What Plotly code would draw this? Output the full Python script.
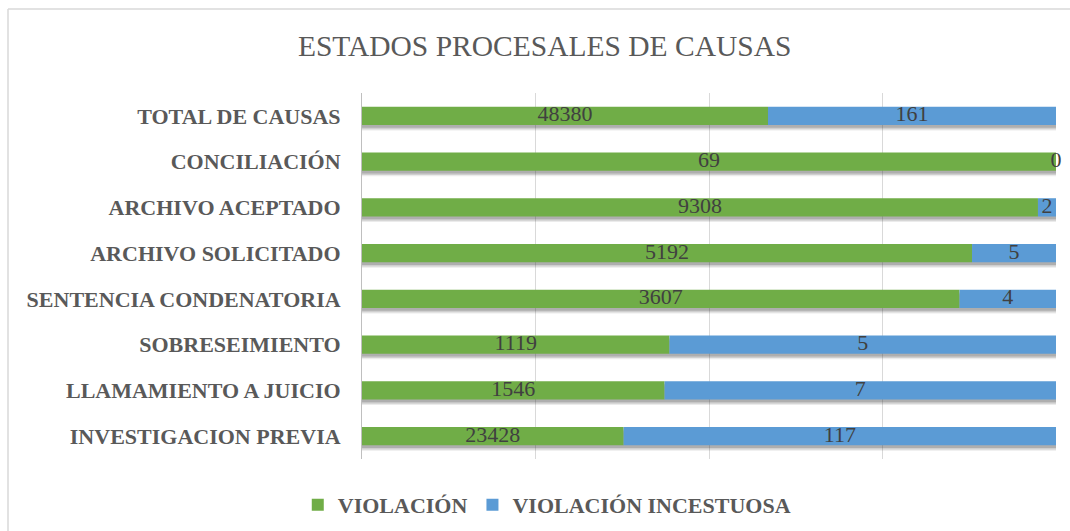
import plotly.graph_objects as go

# Categories, top to bottom as in the chart
CATEGORIES = [
    "TOTAL DE CAUSAS",
    "CONCILIACIÓN",
    "ARCHIVO ACEPTADO",
    "ARCHIVO SOLICITADO",
    "SENTENCIA CONDENATORIA",
    "SOBRESEIMIENTO",
    "LLAMAMIENTO A JUICIO",
    "INVESTIGACION PREVIA",
]

# Counts shown as data labels
VIOLACION = [48380, 69, 9308, 5192, 3607, 1119, 1546, 23428]
INCESTUOSA = [161, 0, 2, 5, 4, 5, 7, 117]

# Bar shares (% of full width) as drawn in the original chart
VIOLACION_SHARE = [58.5, 100.0, 97.4, 87.9, 86.1, 44.3, 43.6, 37.7]
INCESTUOSA_SHARE = [41.5, 0.0, 2.6, 12.1, 13.9, 55.7, 56.4, 62.3]

GREEN = "#70AD47"
BLUE = "#5B9BD5"
GRAY_TXT = "#595959"
LABEL_TXT = "#404040"
GRID = "#D9D9D9"
FONT = "Liberation Serif"

W, H = 1070, 531
ML, MR, MT, MB = 362, 14, 93, 72
BAR_W = 0.4

fig = go.Figure()

# soft drop shadow under each full bar
totals = [g + b for g, b in zip(VIOLACION_SHARE, INCESTUOSA_SHARE)]
for shift, alpha in [(0.12, 0.10), (0.09, 0.16), (0.06, 0.22)]:
    fig.add_trace(go.Bar(
        y=CATEGORIES, x=totals, orientation="h", width=BAR_W,
        offset=-BAR_W / 2 + shift, marker=dict(color=f"rgba(60,60,60,{alpha})", line=dict(width=0)),
        showlegend=False, hoverinfo="skip",
    ))

fig.add_trace(go.Bar(
    y=CATEGORIES, x=VIOLACION_SHARE, orientation="h", width=BAR_W,
    name="VIOLACIÓN", marker=dict(color=GREEN, line=dict(width=0)),
))
fig.add_trace(go.Bar(
    y=CATEGORIES, x=INCESTUOSA_SHARE, base=VIOLACION_SHARE, orientation="h", width=BAR_W,
    name="VIOLACIÓN INCESTUOSA", marker=dict(color=BLUE, line=dict(width=0)),
))

# data labels centred in each segment
fig.add_trace(go.Scatter(
    y=CATEGORIES, x=[g / 2 for g in VIOLACION_SHARE], mode="text",
    text=[str(v) for v in VIOLACION], textposition="middle center",
    textfont=dict(family=FONT, size=22, color=LABEL_TXT),
    showlegend=False, hoverinfo="skip", cliponaxis=False,
))
fig.add_trace(go.Scatter(
    y=CATEGORIES, x=[g + b / 2 for g, b in zip(VIOLACION_SHARE, INCESTUOSA_SHARE)], mode="text",
    text=[str(v) for v in INCESTUOSA], textposition="middle center",
    textfont=dict(family=FONT, size=22, color=LABEL_TXT),
    showlegend=False, hoverinfo="skip", cliponaxis=False,
))

# outer chart frame: only the left and top edges fall inside the picture
pw, ph = W - ML - MR, H - MT - MB
fx0 = (8 - ML) / pw
fy1 = (H - MB - 9) / ph
frame = [
    dict(type="line", xref="paper", yref="paper", x0=fx0, x1=fx0, y0=fy1, y1=-1,
         line=dict(color=GRID, width=1.5), layer="below"),
    dict(type="line", xref="paper", yref="paper", x0=fx0, x1=2, y0=fy1, y1=fy1,
         line=dict(color=GRID, width=1.5), layer="below"),
]

fig.update_layout(
    width=W, height=H,
    paper_bgcolor="white", plot_bgcolor="white",
    barmode="overlay",
    margin=dict(l=ML, r=MR, t=MT, b=MB),
    font=dict(family=FONT, color=GRAY_TXT),
    title=dict(
        text="ESTADOS PROCESALES DE CAUSAS",
        font=dict(family=FONT, size=29.5, color=GRAY_TXT),
        x=0.509, xanchor="center", y=1 - 46 / H, yanchor="middle", yref="container",
    ),
    xaxis=dict(
        range=[0, 100], tickvals=[0, 25, 50, 75, 100], showticklabels=False,
        showgrid=True, gridcolor=GRID, gridwidth=1, zeroline=False, showline=False, fixedrange=True,
    ),
    yaxis=dict(
        range=[7.5, -0.5], showgrid=False, zeroline=False,
        showline=True, linecolor="#BFBFBF", linewidth=1,
        ticks="", ticklabelstandoff=16,
        tickfont=dict(family=FONT, size=22, color=GRAY_TXT, weight="bold"),
    ),
    legend=dict(
        orientation="h", xref="container", yref="container",
        x=0.511, y=1 - 505 / H, xanchor="center", yanchor="middle",
        font=dict(family=FONT, size=22, color=GRAY_TXT, weight="bold"),
        itemwidth=30,
    ),
    shapes=frame,
)

# page body has a default 8px margin; drop it (and any scrollbar) so the figure sits at the window origin
fig.write_html(
    "out.html",
    config={"displayModeBar": False},
    post_script="document.body.style.margin='0';document.body.style.overflow='hidden';"
                "document.documentElement.style.overflow='hidden';",
)
